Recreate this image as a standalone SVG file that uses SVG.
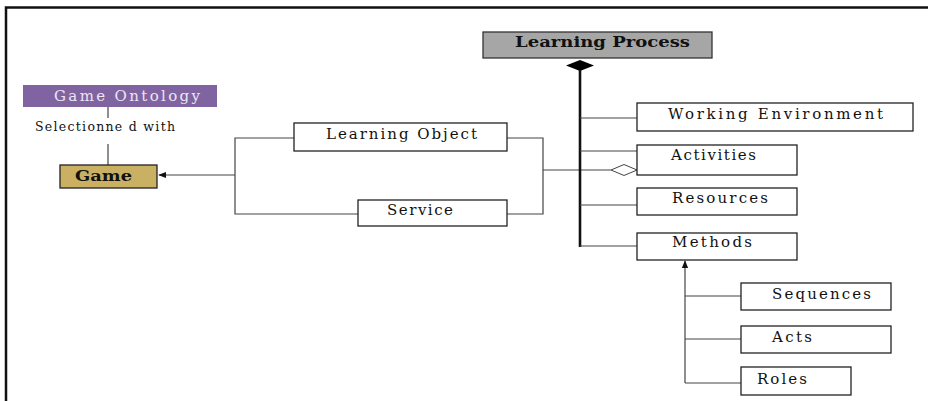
<svg xmlns="http://www.w3.org/2000/svg" width="928" height="401" viewBox="0 0 928 401">
  <defs>
    <style>
      .box { fill: #ffffff; stroke: #222; stroke-width: 1.3; }
      .lbl { font-family: "DejaVu Serif", "Liberation Serif", serif; font-size: 15px; fill: #111; }
      .small { font-size: 12.5px; }
      .bold { font-weight: bold; }
      .wire { fill: none; stroke: #444; stroke-width: 1.2; }
      .spine { fill: none; stroke: #111; stroke-width: 2.6; }
    </style>
    <marker id="arrowSolid" viewBox="0 0 10 10" refX="9" refY="5" markerWidth="8" markerHeight="8" markerUnits="userSpaceOnUse" orient="auto">
      <path d="M0,1 L10,5 L0,9 Z" fill="#111"/>
    </marker>
  </defs>

  <rect width="928" height="401" fill="#ffffff"/>

  <!-- frame -->
  <path d="M6,401 V7.5 H928" fill="none" stroke="#111" stroke-width="2.5"/>

  <!-- connectors -->
  <g id="connectors">
    <!-- ontology to game -->
    <line class="wire" x1="108" y1="107" x2="108" y2="118" stroke-width="1.6"/>
    <line class="wire" x1="108" y1="144" x2="108" y2="165" stroke-width="1.6"/>
    <!-- left bracket into Game -->
    <path class="wire" d="M294,138 H235 V214 H358"/>
    <line class="wire" x1="235" y1="175" x2="159" y2="175" marker-end="url(#arrowSolid)"/>
    <!-- right bracket to Activities aggregation -->
    <path class="wire" d="M507,138 H543 V214 H507"/>
    <line class="wire" x1="543" y1="170" x2="611" y2="170"/>
    <path d="M611,170 L624,164.5 L637,170 L624,175.5 Z" fill="#fff" stroke="#444" stroke-width="1"/>
    <!-- composition spine from Learning Process -->
    <path d="M566,65.5 L580,60 L594,65.5 L580,71 Z" fill="#000"/>
    <line class="spine" x1="580" y1="70" x2="580" y2="247"/>
    <line class="wire" x1="580" y1="118" x2="637" y2="118"/>
    <line class="wire" x1="580" y1="151" x2="637" y2="151"/>
    <line class="wire" x1="580" y1="205" x2="637" y2="205"/>
    <line class="wire" x1="580" y1="246" x2="637" y2="246"/>
    <!-- Methods breakdown -->
    <line class="wire" x1="685" y1="383" x2="685" y2="261" stroke-width="1.6" marker-end="url(#arrowSolid)"/>
    <line class="wire" x1="685" y1="296" x2="741" y2="296"/>
    <line class="wire" x1="685" y1="339" x2="741" y2="339"/>
    <line class="wire" x1="685" y1="383" x2="741" y2="383"/>
  </g>

  <g id="learning-process">
    <rect x="483" y="32" width="229" height="26" fill="#a6a6a6" stroke="#333" stroke-width="1.3"/>
    <text class="lbl bold" x="515" y="47" textLength="175" lengthAdjust="spacingAndGlyphs">Learning Process</text>
  </g>

  <g id="game-ontology">
    <rect x="23" y="85" width="194" height="22" fill="#8064a2"/>
    <text class="lbl" x="54" y="101" textLength="146" lengthAdjust="spacing" style="fill:#ece6f3">Game Ontology</text>
  </g>

  <g id="selection-label">
    <text class="lbl small" x="35" y="131" textLength="140" lengthAdjust="spacing">Selectionne d with</text>
  </g>

  <g id="game">
    <rect x="60" y="165" width="97" height="23" fill="#c9b063" stroke="#222" stroke-width="1.3"/>
    <text class="lbl bold" x="75" y="181" textLength="57" lengthAdjust="spacingAndGlyphs">Game</text>
  </g>

  <g id="learning-object">
    <rect class="box" x="294" y="123" width="213" height="28"/>
    <text class="lbl" x="326" y="139" textLength="151" lengthAdjust="spacing">Learning Object</text>
  </g>

  <g id="service">
    <rect class="box" x="358" y="200" width="149" height="26"/>
    <text class="lbl" x="387" y="215" textLength="66" lengthAdjust="spacing">Service</text>
  </g>

  <g id="working-environment">
    <rect class="box" x="637" y="103" width="276" height="28"/>
    <text class="lbl" x="668" y="119" textLength="215" lengthAdjust="spacing">Working Environment</text>
  </g>

  <g id="activities">
    <rect class="box" x="637" y="145" width="160" height="30"/>
    <text class="lbl" x="671" y="160" textLength="85" lengthAdjust="spacing">Activities</text>
  </g>

  <g id="resources">
    <rect class="box" x="637" y="188" width="160" height="27"/>
    <text class="lbl" x="672" y="203" textLength="96" lengthAdjust="spacing">Resources</text>
  </g>

  <g id="methods">
    <rect class="box" x="637" y="233" width="160" height="27"/>
    <text class="lbl" x="672" y="247" textLength="80" lengthAdjust="spacing">Methods</text>
  </g>

  <g id="sequences">
    <rect class="box" x="741" y="283" width="150" height="27"/>
    <text class="lbl" x="772" y="299" textLength="99" lengthAdjust="spacing">Sequences</text>
  </g>

  <g id="acts">
    <rect class="box" x="741" y="326" width="150" height="27"/>
    <text class="lbl" x="772" y="342" textLength="40" lengthAdjust="spacing">Acts</text>
  </g>

  <g id="roles">
    <rect class="box" x="741" y="367" width="110" height="28"/>
    <text class="lbl" x="757" y="384" textLength="50" lengthAdjust="spacing">Roles</text>
  </g>
</svg>
